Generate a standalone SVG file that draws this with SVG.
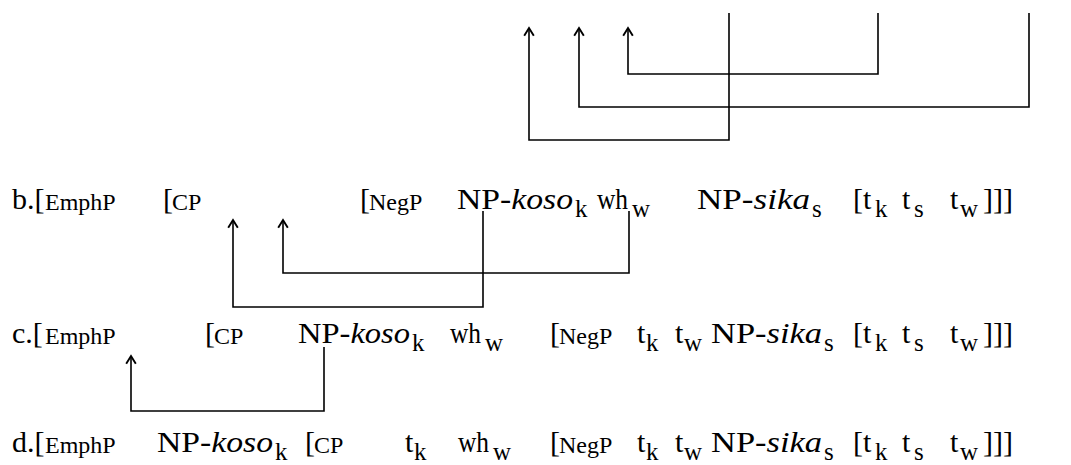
<svg xmlns="http://www.w3.org/2000/svg" width="1071" height="465" viewBox="0 0 1071 465">
<style>
text { font-family: "Liberation Serif", "Times New Roman", serif; fill: #000; }
.m { font-size: 30px; }
.s { font-size: 24px; }
.l { font-size: 25px; }
.i { font-style: italic; }
.c { fill: none; stroke: #000; stroke-width: 1.6; }
</style>
<defs>
<marker id="ah" markerUnits="userSpaceOnUse" markerWidth="12" markerHeight="12" viewBox="0 0 10 10" refX="8" refY="5" orient="auto-start-reverse">
<path d="M1.5,1 L8,5 L1.5,9" fill="none" stroke="#000" stroke-width="1.6"/>
</marker>
</defs>
<rect width="1071" height="465" fill="#fff"/>
<g id="connectors">
<path class="c" marker-start="url(#ah)" d="M529,28 V140 H729 V13"/>
<path class="c" marker-start="url(#ah)" d="M579,28 V107 H1029 V13"/>
<path class="c" marker-start="url(#ah)" d="M628,28 V74 H878 V13"/>
<path class="c" marker-start="url(#ah)" d="M283,220 V273 H629 V211"/>
<path class="c" marker-start="url(#ah)" d="M233,220 V307 H483 V211"/>
<path class="c" marker-start="url(#ah)" d="M131,356 V411 H324 V347"/>
</g>
<g id="line-b">
<text class="m" x="12" y="209">b.[</text>
<text class="s" x="45" y="210">EmphP</text>
<text class="m" x="163" y="209">[</text>
<text class="s" x="172" y="210">CP</text>
<text class="m" x="360" y="209">[</text>
<text class="s" x="369" y="210">NegP</text>
<text class="m" x="457" y="209" textLength="116" lengthAdjust="spacingAndGlyphs">NP-<tspan class="i">koso</tspan></text>
<text class="l" x="575" y="217">k</text>
<text class="m" x="597" y="209" textLength="31" lengthAdjust="spacingAndGlyphs">wh</text>
<text class="l" x="632" y="217">w</text>
<text class="m" x="697" y="209" textLength="113" lengthAdjust="spacingAndGlyphs">NP-<tspan class="i">sika</tspan></text>
<text class="l" x="812" y="217">s</text>
<text class="m" x="853" y="209">[t</text>
<text class="l" x="875" y="217">k</text>
<text class="m" x="902" y="209">t</text>
<text class="l" x="914" y="217">s</text>
<text class="m" x="950" y="209">t</text>
<text class="l" x="960" y="217">w</text>
<text class="m" x="983" y="209">]]]</text>
</g>
<g id="line-c">
<text class="m" x="12" y="343">c.[</text>
<text class="s" x="45" y="344">EmphP</text>
<text class="m" x="205" y="343">[</text>
<text class="s" x="214" y="344">CP</text>
<text class="m" x="298" y="343" textLength="112" lengthAdjust="spacingAndGlyphs">NP-<tspan class="i">koso</tspan></text>
<text class="l" x="412" y="351">k</text>
<text class="m" x="450" y="343" textLength="31" lengthAdjust="spacingAndGlyphs">wh</text>
<text class="l" x="485" y="351">w</text>
<text class="m" x="550" y="343">[</text>
<text class="s" x="559" y="344">NegP</text>
<text class="m" x="637" y="343">t</text>
<text class="l" x="646" y="351">k</text>
<text class="m" x="675" y="343">t</text>
<text class="l" x="684" y="351">w</text>
<text class="m" x="711" y="343" textLength="111" lengthAdjust="spacingAndGlyphs">NP-<tspan class="i">sika</tspan></text>
<text class="l" x="824" y="351">s</text>
<text class="m" x="853" y="343">[t</text>
<text class="l" x="875" y="351">k</text>
<text class="m" x="902" y="343">t</text>
<text class="l" x="914" y="351">s</text>
<text class="m" x="950" y="343">t</text>
<text class="l" x="960" y="351">w</text>
<text class="m" x="983" y="343">]]]</text>
</g>
<g id="line-d">
<text class="m" x="12" y="452">d.[</text>
<text class="s" x="45" y="453">EmphP</text>
<text class="m" x="157" y="452" textLength="116" lengthAdjust="spacingAndGlyphs">NP-<tspan class="i">koso</tspan></text>
<text class="l" x="275" y="460">k</text>
<text class="m" x="305" y="452">[</text>
<text class="s" x="314" y="453">CP</text>
<text class="m" x="405" y="452">t</text>
<text class="l" x="414" y="460">k</text>
<text class="m" x="458" y="452" textLength="31" lengthAdjust="spacingAndGlyphs">wh</text>
<text class="l" x="493" y="460">w</text>
<text class="m" x="550" y="452">[</text>
<text class="s" x="559" y="453">NegP</text>
<text class="m" x="637" y="452">t</text>
<text class="l" x="646" y="460">k</text>
<text class="m" x="675" y="452">t</text>
<text class="l" x="684" y="460">w</text>
<text class="m" x="711" y="452" textLength="111" lengthAdjust="spacingAndGlyphs">NP-<tspan class="i">sika</tspan></text>
<text class="l" x="824" y="460">s</text>
<text class="m" x="853" y="452">[t</text>
<text class="l" x="875" y="460">k</text>
<text class="m" x="902" y="452">t</text>
<text class="l" x="914" y="460">s</text>
<text class="m" x="950" y="452">t</text>
<text class="l" x="960" y="460">w</text>
<text class="m" x="983" y="452">]]]</text>
</g>
</svg>
